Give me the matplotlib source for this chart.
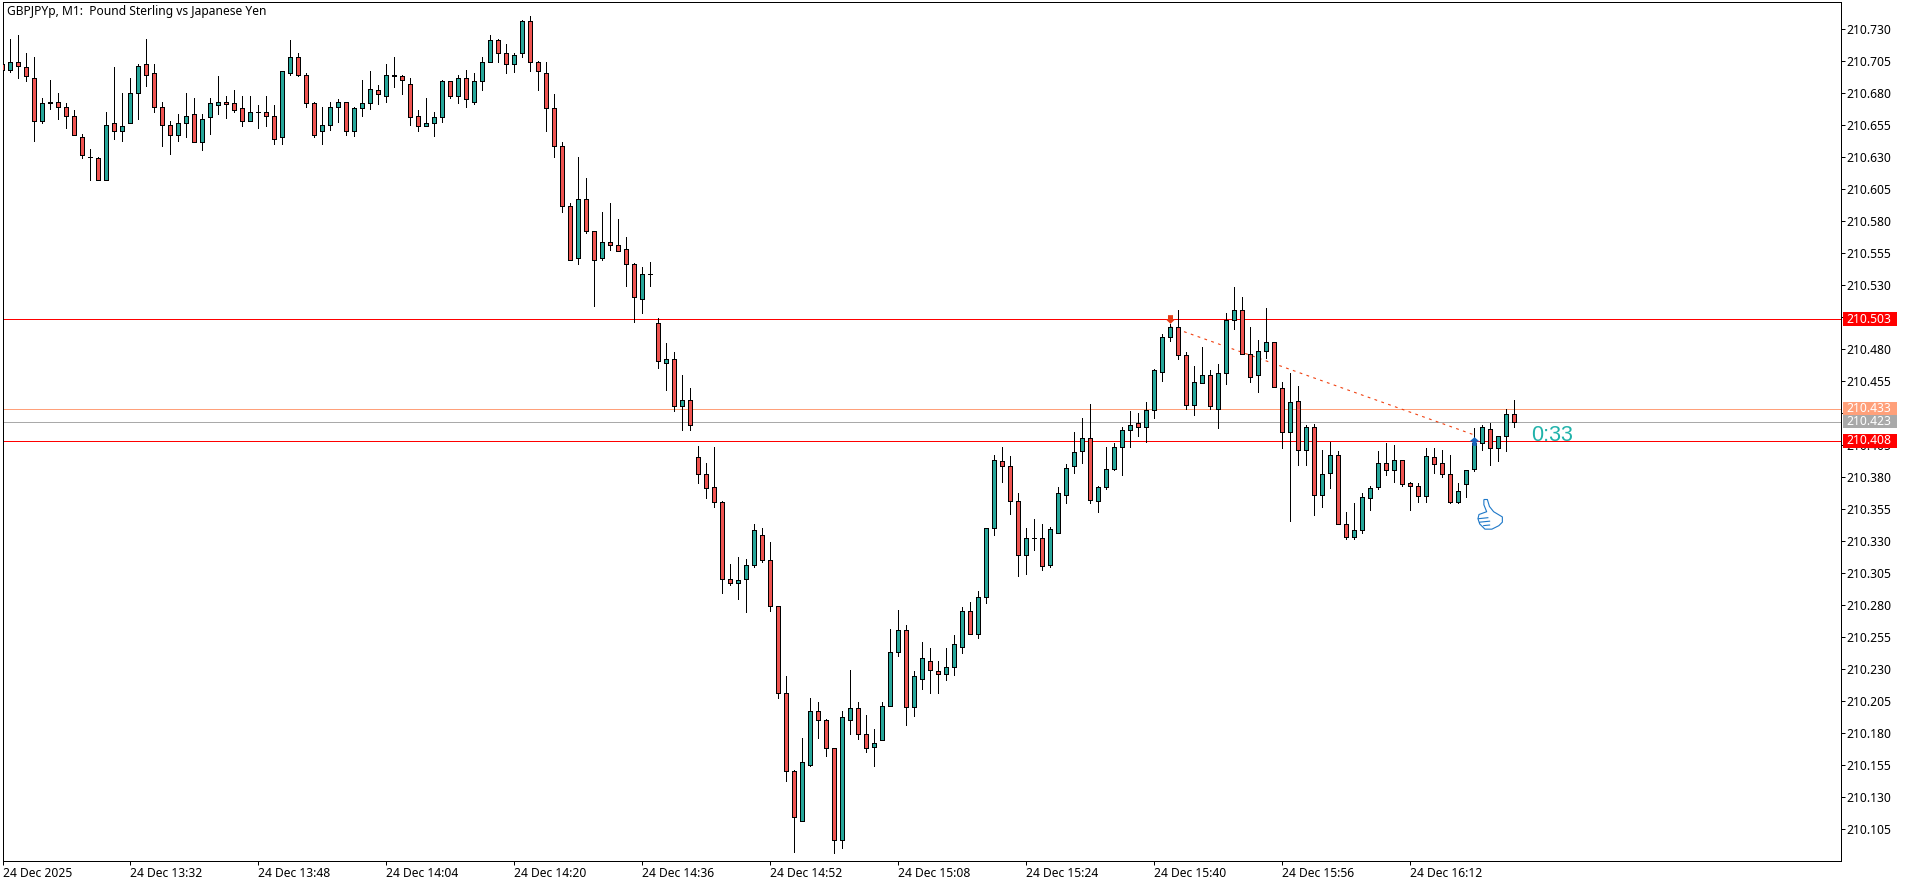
import numpy as np
import matplotlib
matplotlib.use('Agg')
import matplotlib.pyplot as plt
from matplotlib.markers import MarkerStyle
from matplotlib.patches import Rectangle
from matplotlib.path import Path
from matplotlib.transforms import blended_transform_factory

plt.rcParams['font.family'] = ['Noto Sans', 'DejaVu Sans']

# candle data, in thousandths above 210.000, one value per minute from 13:16
opens = [702, 698, 704, 700, 691, 658, 672, 673, 669, 662, 645, 630, 629, 612, 656, 650, 656, 680, 702, 695,
         669, 655, 647, 656, 663, 641, 661, 670, 673, 672, 668, 658, 665, 665, 662, 645, 695, 708, 694, 672,
         650, 655, 669, 673, 650, 668, 672, 682, 677, 694, 693, 687, 662, 654, 656, 661, 689, 677, 691, 673,
         689, 704, 721, 711, 702, 711, 736, 704, 695, 668, 638, 591, 551, 597, 572, 551, 563, 561, 558, 546,
         519, 538, 500, 469, 472, 435, 440, 395, 382, 372, 360, 300, 297, 300, 311, 334, 315, 279, 211, 150,
         111, 155, 197, 190, 168, 96, 190, 199, 179, 169, 174, 201, 243, 260, 200, 222, 236, 228, 226, 231,
         247, 275, 257, 286, 340, 392, 388, 361, 319, 332, 332, 311, 336, 366, 388, 400, 410, 361, 372, 386,
         403, 416, 422, 419, 432, 462, 489, 497, 475, 436, 453, 459, 433, 461, 502, 510, 476, 459, 478, 485,
         449, 415, 439, 401, 419, 366, 383, 397, 343, 333, 338, 363, 372, 391, 385, 393, 375, 373, 365, 395,
         391, 382, 360, 374, 386, 406, 417, 402, 412, 429]
highs = [702, 722, 725, 711, 708, 676, 690, 680, 672, 666, 648, 636, 630, 665, 700, 680, 691, 702, 722, 702,
         673, 658, 663, 680, 676, 663, 676, 693, 677, 682, 677, 677, 670, 677, 670, 697, 721, 711, 695, 673,
         669, 673, 675, 673, 669, 690, 697, 686, 702, 708, 694, 691, 666, 676, 665, 690, 689, 694, 698, 695,
         708, 725, 722, 718, 711, 737, 740, 705, 704, 679, 641, 594, 630, 613, 572, 587, 594, 581, 567, 547,
         544, 548, 504, 484, 477, 459, 449, 404, 391, 403, 361, 312, 317, 316, 343, 340, 329, 279, 224, 151,
         176, 207, 204, 191, 168, 197, 229, 204, 194, 183, 204, 261, 276, 264, 228, 251, 246, 236, 246, 256,
         278, 282, 291, 340, 397, 403, 396, 367, 340, 347, 343, 341, 372, 390, 415, 426, 437, 373, 403, 406,
         419, 431, 430, 438, 464, 491, 499, 510, 477, 466, 481, 463, 468, 508, 528, 520, 497, 487, 512, 485,
         454, 461, 451, 420, 421, 401, 407, 400, 352, 359, 367, 373, 400, 406, 405, 393, 376, 375, 402, 402,
         401, 397, 375, 385, 418, 420, 422, 412, 433, 440]
lows = [698, 696, 691, 689, 642, 656, 667, 659, 652, 647, 629, 612, 612, 612, 644, 642, 656, 659, 685, 665,
        638, 632, 642, 645, 641, 635, 648, 663, 660, 665, 654, 658, 652, 654, 640, 640, 694, 693, 669, 645,
        640, 651, 657, 647, 646, 662, 667, 671, 673, 684, 679, 655, 650, 654, 646, 657, 676, 672, 669, 671,
        682, 704, 704, 695, 696, 708, 697, 682, 650, 630, 587, 549, 546, 570, 513, 549, 557, 556, 529, 501,
        508, 529, 465, 448, 431, 416, 416, 375, 363, 356, 289, 295, 284, 274, 309, 313, 275, 207, 142, 87,
        111, 154, 176, 162, 86, 90, 179, 175, 165, 154, 174, 201, 240, 186, 193, 214, 211, 211, 221, 225,
        242, 257, 254, 281, 334, 376, 351, 302, 304, 323, 307, 309, 336, 359, 383, 391, 359, 352, 370, 385,
        381, 403, 412, 407, 426, 455, 486, 472, 433, 428, 453, 433, 418, 452, 495, 476, 454, 446, 473, 450,
        402, 345, 389, 389, 350, 356, 371, 343, 331, 331, 336, 354, 370, 381, 376, 373, 354, 360, 360, 383,
        380, 359, 359, 364, 384, 401, 389, 392, 400, 419]
closes = [698, 704, 701, 693, 658, 672, 673, 669, 662, 647, 631, 630, 612, 655, 650, 654, 680, 701, 694, 669,
          655, 647, 656, 662, 641, 659, 672, 673, 671, 666, 658, 665, 665, 662, 644, 697, 708, 694, 672, 647,
          655, 669, 673, 650, 668, 672, 683, 679, 694, 693, 690, 661, 654, 656, 661, 689, 677, 691, 675, 689,
          704, 721, 711, 702, 709, 736, 704, 697, 668, 638, 591, 549, 597, 572, 549, 563, 561, 556, 546, 520,
          538, 538, 470, 472, 435, 440, 420, 382, 371, 360, 300, 297, 299, 311, 338, 315, 279, 211, 150, 114,
          157, 197, 190, 168, 96, 192, 199, 179, 168, 172, 201, 243, 260, 200, 224, 238, 229, 226, 231, 249,
          275, 257, 286, 340, 393, 388, 361, 319, 332, 332, 310, 339, 367, 387, 399, 410, 362, 372, 386, 403,
          416, 420, 419, 432, 463, 489, 497, 475, 436, 454, 459, 435, 461, 502, 510, 476, 458, 478, 485, 450,
          415, 438, 401, 419, 366, 382, 397, 343, 333, 338, 364, 371, 391, 385, 393, 374, 373, 365, 396, 390,
          382, 360, 369, 385, 406, 419, 402, 412, 429, 423]

price_ticks = [730, 705, 680, 655, 630, 605, 580, 555, 530, 505, 480, 455, 430, 405, 380, 355, 330, 305,
               280, 255, 230, 205, 180, 155, 130, 105]
hidden_ticks = [505, 430]  # labels that sit fully under a price tag in the chart
time_labels = ['24 Dec 2025', '24 Dec 13:32', '24 Dec 13:48', '24 Dec 14:04', '24 Dec 14:20', '24 Dec 14:36',
               '24 Dec 14:52', '24 Dec 15:08', '24 Dec 15:24', '24 Dec 15:40', '24 Dec 15:56', '24 Dec 16:12']
bars_per_label = 16

support_price = 210.408
resistance_price = 210.503
ask_price = 210.433
bid_price = 210.423
trade_open = (146, 210.497)
trade_close = (184, 210.4125)
sell_arrow = (146, 210.503)
buy_arrow = (184, 210.408)
thumb_at = (186, 210.351)

W, H = 1910, 885
LEFT, RIGHT, TOP, BOTTOM = 2.5, 1840.5, 2.3, 861.0
UP, DOWN = '#26a69a', '#ef5350'
PX = 0.72  # one pixel in points at dpi 100


def to_price(points):
    return 210 + np.asarray(points, dtype=float) / 1000


o, h, l, c = to_price(opens), to_price(highs), to_price(lows), to_price(closes)
x = np.arange(len(o))

fig = plt.figure(figsize=(W / 100, H / 100), dpi=100, facecolor='white')
ax = fig.add_axes([LEFT / W, 1 - BOTTOM / H, (RIGHT - LEFT) / W, (BOTTOM - TOP) / H])
ax.set_xlim((LEFT - 2.33) / 8, (RIGHT - 2.33) / 8)
ax.set_ylim(210.0797, 210.7505)

for s in ax.spines.values():
    s.set_linewidth(PX)
    s.set_color('black')

# level lines sit under the candles
for price, colour in [(resistance_price, '#ff0000'), (support_price, '#ff0000'),
                      (ask_price, '#ffa07a'), (bid_price, '#a9a9a9')]:
    ax.axhline(price, color=colour, lw=PX, zorder=1, antialiased=False)

ax.plot([trade_open[0], trade_close[0]], [trade_open[1], trade_close[1]], color='#f04010', lw=0.8,
        linestyle=(0, (2.5, 4)), zorder=1.5)

# candles
ax.vlines(x, l, h, color='black', lw=PX, zorder=2, antialiased=False)
colours = [UP if cl > op else DOWN if cl < op else 'black' for op, cl in zip(o, c)]
ax.bar(x, np.abs(c - o), width=0.5, bottom=np.minimum(o, c), color=colours, edgecolor='black',
       linewidth=PX, zorder=3, antialiased=False)

# trade arrows and the thumb sign
sell_path = Path([(-7.5, 13), (7.5, 13), (7.5, 0), (13.5, 0), (0, -13), (-13.5, 0), (-7.5, 0), (-7.5, 13)], closed=True)
buy_path = Path([(0, 13), (15, 0), (6.5, 0), (6.5, -13), (-6.5, -13), (-6.5, 0), (-15, 0), (0, 13)], closed=True)
ax.plot(*sell_arrow, marker=MarkerStyle(sell_path), ms=6.5, color='#e63c14', mew=0, zorder=4)
ax.plot(*buy_arrow, marker=MarkerStyle(buy_path), ms=7.2, color='#1565c0', mew=0, zorder=4)

outline = np.array([(612, 660), (622, 660), (628, 680), (640, 695), (665, 710), (665, 725), (655, 735), (635, 745),
                    (615, 745), (600, 730), (595, 715), (598, 703), (620, 695), (612, 675), (612, 660)], dtype=float)
fingers = np.array([(597, 715), (625, 712), (600, 725), (630, 722), (610, 735), (630, 733)], dtype=float)
thumb_verts = np.vstack([outline, fingers]) - (631, 703)
thumb_verts[:, 1] *= -1
thumb_codes = [Path.MOVETO] + [Path.LINETO] * (len(outline) - 1) + [Path.MOVETO, Path.LINETO] * 3
ax.plot(*thumb_at, marker=MarkerStyle(Path(thumb_verts, thumb_codes)), ms=21.6, mfc='white', mec='#1e78c8',
        mew=0.8, zorder=4)

# axis ticks
label_font = dict(fontsize=8.7, color='black')
ax.yaxis.tick_right()
ax.set_yticks(to_price(price_ticks))
ax.set_yticklabels(['' if p in hidden_ticks else f'{210 + p / 1000:.3f}' for p in price_ticks], **label_font)
ax.tick_params(axis='y', length=4 * PX, width=PX, pad=1.0)
ticks_x = x[::bars_per_label][:len(time_labels)]
ax.set_xticks(ticks_x)
ax.set_xticklabels(time_labels, ha='left', **label_font)
ax.tick_params(axis='x', length=4 * PX, width=PX, pad=1.5)

# price tags on the right axis
tag_trans = blended_transform_factory(ax.transAxes, ax.transData)
tag_x = (1843 - LEFT) / (RIGHT - LEFT)
text_x = (1846 - LEFT) / (RIGHT - LEFT)
tag_w = 54 / (RIGHT - LEFT)
tag_h = 13.6 / 1280
for price, colour in [(resistance_price, '#ff0000'), (ask_price, '#ffa07a'), (bid_price, '#a9a9a9'),
                      (support_price, '#ff0000')]:
    ax.add_patch(Rectangle((tag_x, price - tag_h / 2), tag_w, tag_h, transform=tag_trans, facecolor=colour,
                           edgecolor='none', clip_on=False, zorder=10))
    ax.text(text_x, price, f'{price:.3f}', transform=tag_trans, color='white', fontsize=8.7, va='center',
            ha='left', clip_on=False, zorder=11)

fig.text(7.3 / W, 1 - 11.5 / H, 'GBPJPYp, M1:  Pound Sterling vs Japanese Yen', fontsize=8.7, color='black',
         va='center', ha='left')
fig.text(1531 / W, 1 - 435.5 / H, '0:33', fontsize=15.5, color='#20b2aa', family=['Liberation Sans', 'DejaVu Sans'],
         va='center', ha='left')

fig.savefig('out.png', dpi=100)
